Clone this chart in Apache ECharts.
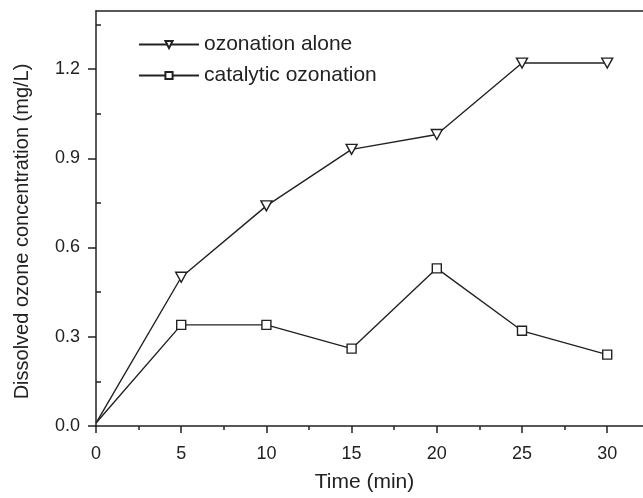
<!DOCTYPE html>
<html>
<head>
<meta charset="utf-8">
<script src="https://cdn.jsdelivr.net/npm/echarts@6/dist/echarts.min.js"></script>
<style>html,body{margin:0;padding:0;background:#fff;}#c{width:643px;height:498px;}</style>
</head>
<body>
<div id="c"></div>
<script>
const times = [0, 5, 10, 15, 20, 25, 30];
const ozonationAlone = [0.01, 0.50, 0.74, 0.93, 0.98, 1.22, 1.22];
const catalyticOzonation = [0.01, 0.34, 0.34, 0.26, 0.53, 0.32, 0.24];
const xMajorTicks = [0, 5, 10, 15, 20, 25, 30];
const xMinorTicks = [2.5, 7.5, 12.5, 17.5, 22.5, 27.5];
const yMajorTicks = [0, 0.3, 0.6, 0.9, 1.2];
const yMinorTicks = [0.15, 0.45, 0.75, 1.05, 1.35];
const seriesNames = ['ozonation alone', 'catalytic ozonation'];

const X_MAX = 32.1, Y_MAX = 1.395;
const FONT = 'Liberation Sans, Arial, sans-serif';
const INK = '#222';

// first point (t = 0) is drawn without a marker, as in the reference
function pairs(ys) {
  return times.map((t, i) => i === 0 ? {value: [t, ys[i]], symbol: 'none'} : [t, ys[i]]);
}

const chart = echarts.init(document.getElementById('c'), null, {renderer: 'canvas'});
chart.setOption({
  animation: false,
  backgroundColor: '#fff',
  textStyle: {fontFamily: FONT},
  grid: {left: 96, right: 0, top: 11, bottom: 69, containLabel: false},
  legend: {
    orient: 'vertical', left: 133, top: 29,
    itemWidth: 60, itemHeight: 9, itemGap: 10,
    textStyle: {fontSize: 21, color: INK, fontFamily: FONT, lineHeight: 20},
    data: seriesNames
  },
  xAxis: [
    {
      type: 'value', min: 0, max: X_MAX, position: 'bottom',
      name: 'Time (min)', nameLocation: 'middle', nameGap: 46,
      nameTextStyle: {fontSize: 21, color: INK, fontFamily: FONT, padding: [0, 10, 0, 0]},
      axisLine: {show: true, lineStyle: {color: INK, width: 1.5}},
      axisTick: {show: true, inside: false, length: 7, lineStyle: {color: INK, width: 1.5}, customValues: xMajorTicks},
      axisLabel: {show: true, margin: 19, fontSize: 18, color: INK, fontFamily: FONT, customValues: xMajorTicks},
      splitLine: {show: false}
    },
    {
      type: 'value', min: 0, max: X_MAX, position: 'bottom', gridIndex: 0,
      axisLine: {show: false},
      axisTick: {show: true, inside: false, length: 4, lineStyle: {color: INK, width: 1.5}, customValues: xMinorTicks},
      axisLabel: {show: false},
      splitLine: {show: false}
    },
    {
      type: 'value', min: 0, max: X_MAX, position: 'top',
      axisLine: {show: true, lineStyle: {color: INK, width: 1.5}},
      axisTick: {show: false}, axisLabel: {show: false}, splitLine: {show: false}
    }
  ],
  yAxis: [
    {
      type: 'value', min: 0, max: Y_MAX,
      name: 'Dissolved ozone concentration (mg/L)', nameLocation: 'middle', nameGap: 64, nameRotate: 90,
      nameTextStyle: {fontSize: 20, color: INK, fontFamily: FONT, padding: [0, 26, 0, 0]},
      axisLine: {show: true, lineStyle: {color: INK, width: 1.5}},
      axisTick: {show: true, inside: false, length: 8, lineStyle: {color: INK, width: 1.5}, customValues: yMajorTicks},
      axisLabel: {show: true, margin: 16, fontSize: 18, color: INK, fontFamily: FONT, customValues: yMajorTicks,
        formatter: v => v.toFixed(1)},
      splitLine: {show: false}
    },
    {
      type: 'value', min: 0, max: Y_MAX,
      axisLine: {show: false},
      axisTick: {show: true, inside: false, length: 5, lineStyle: {color: INK, width: 1.5}, customValues: yMinorTicks},
      axisLabel: {show: false},
      splitLine: {show: false}
    }
  ],
  series: [
    {
      name: seriesNames[0], type: 'line', xAxisIndex: 0, yAxisIndex: 0,
      data: pairs(ozonationAlone),
      symbol: 'triangle', symbolRotate: 180, symbolSize: [11, 10],
      lineStyle: {color: INK, width: 1.4},
      itemStyle: {color: '#fff', borderColor: INK, borderWidth: 1.4},
      z: 3
    },
    {
      name: seriesNames[1], type: 'line', xAxisIndex: 0, yAxisIndex: 0,
      data: pairs(catalyticOzonation),
      symbol: 'rect', symbolSize: 9,
      lineStyle: {color: INK, width: 1.4},
      itemStyle: {color: '#fff', borderColor: INK, borderWidth: 1.4},
      z: 3
    }
  ]
});
</script>
</body>
</html>
